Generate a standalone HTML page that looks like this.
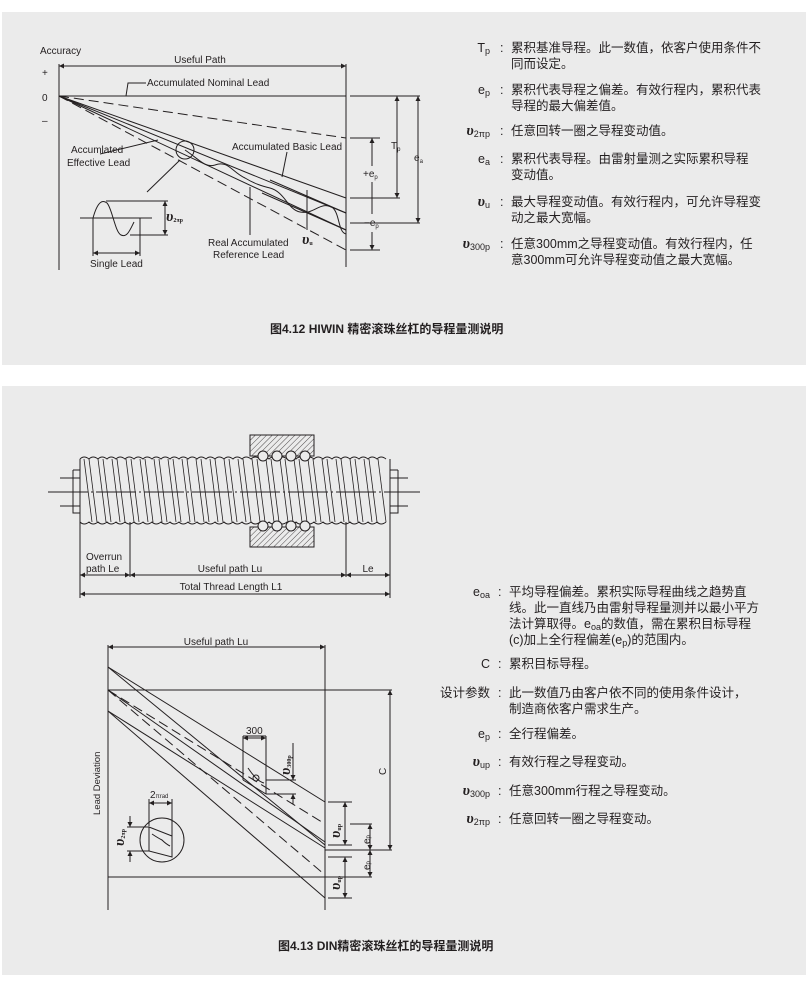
<!DOCTYPE html>
<html><head><meta charset="utf-8"><style>
body{margin:0;background:#fff;width:808px;height:1000px;overflow:hidden}
svg{display:block}
text{font-family:"Liberation Sans","Noto Sans CJK SC",sans-serif;fill:#231f20}
.s{font-size:10px}
.t{font-size:12.5px}
.b{font-size:12px;font-weight:bold}
.v{font-family:"Liberation Serif",serif;font-style:italic;font-weight:bold}
</style></head><body>
<svg width="808" height="1000" viewBox="0 0 808 1000" xmlns="http://www.w3.org/2000/svg">
<defs>
<pattern id="h" width="4" height="4" patternUnits="userSpaceOnUse" patternTransform="rotate(45)"><line x1="0" y1="0" x2="0" y2="4" stroke="#231f20" stroke-width="0.8"/></pattern>
<marker id="a" viewBox="0 0 6 6" refX="6" refY="3" markerWidth="5" markerHeight="5" orient="auto-start-reverse"><path d="M0,0L6,3L0,6z" fill="#231f20"/></marker>
</defs>
<rect x="2" y="12" width="804" height="353" fill="#ebebeb"/>
<rect x="2" y="386" width="804" height="589" fill="#ebebeb"/>

<!-- Panel 1 diagram -->
<g stroke="#231f20" stroke-width="1" fill="none">
<line x1="59" y1="64" x2="59" y2="270"/>
<line x1="346" y1="64" x2="346" y2="267"/>
<line x1="59" y1="66" x2="346" y2="66" marker-start="url(#a)" marker-end="url(#a)"/>
<line x1="59" y1="96" x2="346" y2="96"/>
<polyline points="146,83 128,83 126,96"/>
<line x1="59" y1="96" x2="346" y2="138" stroke-dasharray="10,5"/>
<line x1="59" y1="96" x2="346" y2="198"/>
<line x1="59" y1="96" x2="346" y2="213"/>
<line x1="59" y1="96" x2="346" y2="230"/>
<line x1="59" y1="96" x2="346" y2="250" stroke-dasharray="10,5"/>
<line x1="270" y1="180" x2="346" y2="213"/>
<line x1="262" y1="193" x2="346" y2="230"/>
<path d="M185,150 C200,160 205,168 215,165 C228,160 232,172 245,178 C255,184 262,186 270,188 C285,192 288,210 300,212 C315,215 320,200 333,208 C340,215 338,232 346,234"/>
<circle cx="185" cy="150" r="9"/>
<line x1="180" y1="160" x2="147" y2="192"/>
<line x1="100" y1="154" x2="158" y2="140"/>
<line x1="287" y1="152" x2="282" y2="177"/>
<line x1="250" y1="187" x2="250" y2="235"/>
<line x1="307" y1="190" x2="307" y2="230"/>
<line x1="350" y1="96" x2="420" y2="96"/>
<line x1="350" y1="138" x2="380" y2="138"/>
<line x1="350" y1="198" x2="400" y2="198"/>
<line x1="350" y1="223" x2="420" y2="223"/>
<line x1="350" y1="250" x2="380" y2="250"/>
<line x1="397" y1="96" x2="397" y2="198" marker-start="url(#a)" marker-end="url(#a)"/>
<line x1="418" y1="96" x2="418" y2="223" marker-start="url(#a)" marker-end="url(#a)"/>
<line x1="372" y1="138" x2="372" y2="166" marker-start="url(#a)"/>
<line x1="372" y1="182" x2="372" y2="214"/>
<line x1="372" y1="232" x2="372" y2="250" marker-end="url(#a)"/>
<line x1="80" y1="218" x2="152" y2="218"/>
<path d="M93,218 C98,200 103,200 107,203 C112,208 115,232 121,235 C127,238 130,230 134,222"/>
<line x1="93" y1="218" x2="93" y2="256"/>
<line x1="140" y1="218" x2="140" y2="256"/>
<line x1="93" y1="253" x2="140" y2="253" marker-start="url(#a)" marker-end="url(#a)"/>
<line x1="106" y1="201" x2="168" y2="201"/>
<line x1="130" y1="235" x2="168" y2="235"/>
<line x1="165" y1="201" x2="165" y2="235" marker-start="url(#a)" marker-end="url(#a)"/>
</g>
<g class="s">
<text x="40" y="54">Accuracy</text>
<text x="42" y="76">+</text>
<text x="42" y="101">0</text>
<text x="42" y="124">–</text>
<text x="200" y="63" text-anchor="middle">Useful Path</text>
<text x="147" y="86">Accumulated Nominal Lead</text>
<text x="232" y="150">Accumulated Basic Lead</text>
<text x="71" y="153">Accumlated</text>
<text x="67" y="166">Effective Lead</text>
<text x="208" y="246">Real Accumulated</text>
<text x="213" y="258">Reference Lead</text>
<text x="90" y="267">Single Lead</text>
<text x="391" y="149">T<tspan font-size="6" dy="2">p</tspan></text>
<text x="414" y="161">e<tspan font-size="6" dy="2">a</tspan></text>
<text x="363" y="177">+e<tspan font-size="6" dy="2">p</tspan></text>
<text x="364" y="226">−e<tspan font-size="6" dy="2">p</tspan></text>
</g>
<text x="166" y="221" class="v" font-size="15">υ<tspan font-size="6" dy="1" font-style="normal">2πp</tspan></text>
<text x="302" y="244" class="v" font-size="15">υ<tspan font-size="6" dy="1" font-style="normal">u</tspan></text>

<!-- Panel 1 text -->
<g class="t">
<text x="490" y="52" text-anchor="end">T<tspan font-size="9" dy="2">p</tspan></text>
<text x="500" y="52">:</text><text x="511" y="52">累积基准导程。此一数值，依客户使用条件不</text>
<text x="511" y="68">同而设定。</text>
<text x="490" y="94" text-anchor="end">e<tspan font-size="9" dy="2">p</tspan></text>
<text x="500" y="94">:</text><text x="511" y="94">累积代表导程之偏差。有效行程内，累积代表</text>
<text x="511" y="110">导程的最大偏差值。</text>
<text x="490" y="135" text-anchor="end"><tspan class="v" font-size="15">υ</tspan><tspan font-size="9" dy="2">2πp</tspan></text>
<text x="500" y="135">:</text><text x="511" y="135">任意回转一圈之导程变动值。</text>
<text x="490" y="163" text-anchor="end">e<tspan font-size="9" dy="2">a</tspan></text>
<text x="500" y="163">:</text><text x="511" y="163">累积代表导程。由雷射量测之实际累积导程</text>
<text x="511" y="179">变动值。</text>
<text x="490" y="206" text-anchor="end"><tspan class="v" font-size="15">υ</tspan><tspan font-size="9" dy="2">u</tspan></text>
<text x="500" y="206">:</text><text x="511" y="206">最大导程变动值。有效行程内，可允许导程变</text>
<text x="511" y="222">动之最大宽幅。</text>
<text x="490" y="248" text-anchor="end"><tspan class="v" font-size="15">υ</tspan><tspan font-size="9" dy="2">300p</tspan></text>
<text x="500" y="248">:</text><text x="511" y="248">任意300mm之导程变动值。有效行程内，任</text>
<text x="511" y="264">意300mm可允许导程变动值之最大宽幅。</text>
</g>
<text x="270" y="333" class="b">图4.12 HIWIN 精密滚珠丝杠的导程量测说明</text>

<!-- Panel 2 screw -->
<g stroke="#231f20" stroke-width="1" fill="none">
<line x1="48" y1="492" x2="420" y2="492" stroke-dasharray="40,3,2,3"/>
<path d="M80,478 H60 M60,506 H80 M73,470 V513 H80 M73,470 H80"/>
<path d="M390,478 H408 M408,506 H390 M398,470 V513 H390 M398,470 H390"/>
<path d="M80,459 V522 M390,459 V522"/>
<path d="M80,459 q4,-4 9,0 q4,-4 9,0 q4,-4 9,0 q4,-4 9,0 q4,-4 9,0 q4,-4 9,0 q4,-4 9,0 q4,-4 9,0 q4,-4 9,0 q4,-4 9,0 q4,-4 9,0 q4,-4 9,0 q4,-4 9,0 q4,-4 9,0 q4,-4 9,0 q4,-4 9,0 q4,-4 9,0 q4,-4 9,0 q4,-4 9,0 q4,-4 9,0 q4,-4 9,0 q4,-4 9,0 q4,-4 9,0 q4,-4 9,0 q4,-4 9,0 q4,-4 9,0 q4,-4 9,0 q4,-4 9,0 q4,-4 9,0 q4,-4 9,0 q4,-4 9,0 q4,-4 9,0 q4,-4 9,0 q4,-4 9,0"/>
<path d="M80,522 q4,4 9,0 q4,4 9,0 q4,4 9,0 q4,4 9,0 q4,4 9,0 q4,4 9,0 q4,4 9,0 q4,4 9,0 q4,4 9,0 q4,4 9,0 q4,4 9,0 q4,4 9,0 q4,4 9,0 q4,4 9,0 q4,4 9,0 q4,4 9,0 q4,4 9,0 q4,4 9,0 q4,4 9,0 q4,4 9,0 q4,4 9,0 q4,4 9,0 q4,4 9,0 q4,4 9,0 q4,4 9,0 q4,4 9,0 q4,4 9,0 q4,4 9,0 q4,4 9,0 q4,4 9,0 q4,4 9,0 q4,4 9,0 q4,4 9,0 q4,4 9,0"/>
<g stroke-width="0.8">
<path d="M84,459 l8,63 M89,459 l8,63 M98,459 l8,63 M103,459 l8,63 M112,459 l8,63 M117,459 l8,63 M126,459 l8,63 M131,459 l8,63 M140,459 l8,63 M145,459 l8,63 M154,459 l8,63 M159,459 l8,63 M168,459 l8,63 M173,459 l8,63 M182,459 l8,63 M187,459 l8,63 M196,459 l8,63 M201,459 l8,63 M210,459 l8,63 M215,459 l8,63 M224,459 l8,63 M229,459 l8,63 M238,459 l8,63 M243,459 l8,63 M252,459 l8,63 M257,459 l8,63 M266,459 l8,63 M271,459 l8,63 M280,459 l8,63 M285,459 l8,63 M294,459 l8,63 M299,459 l8,63 M308,459 l8,63 M313,459 l8,63 M322,459 l8,63 M327,459 l8,63 M336,459 l8,63 M341,459 l8,63 M350,459 l8,63 M355,459 l8,63 M364,459 l8,63 M369,459 l8,63 M378,459 l8,63"/>
</g>
<rect x="250" y="435" width="64" height="21" fill="url(#h)"/>
<rect x="250" y="527" width="64" height="20" fill="url(#h)"/>
<g fill="#ebebeb">
<circle cx="263" cy="456" r="5"/><circle cx="277" cy="456" r="5"/><circle cx="291" cy="456" r="5"/><circle cx="305" cy="456" r="5"/>
<circle cx="263" cy="526" r="5"/><circle cx="277" cy="526" r="5"/><circle cx="291" cy="526" r="5"/><circle cx="305" cy="526" r="5"/>
</g>
<path d="M80,522 V598 M130,522 V577 M346,522 V577 M390,522 V598"/>
<line x1="80" y1="575" x2="130" y2="575" marker-start="url(#a)" marker-end="url(#a)"/>
<line x1="130" y1="575" x2="346" y2="575" marker-start="url(#a)" marker-end="url(#a)"/>
<line x1="346" y1="575" x2="390" y2="575" marker-start="url(#a)" marker-end="url(#a)"/>
<line x1="80" y1="594" x2="390" y2="594" marker-start="url(#a)" marker-end="url(#a)"/>
</g>
<g class="s">
<text x="86" y="560">Overrun</text>
<text x="86" y="572">path Le</text>
<text x="230" y="572" text-anchor="middle">Useful path Lu</text>
<text x="368" y="572" text-anchor="middle">Le</text>
<text x="231" y="590" text-anchor="middle">Total Thread Length L1</text>
</g>

<!-- Panel 2 lower diagram -->
<g stroke="#231f20" stroke-width="1" fill="none">
<line x1="108" y1="647" x2="325" y2="647" marker-start="url(#a)" marker-end="url(#a)"/>
<line x1="108" y1="645" x2="108" y2="910"/>
<line x1="325" y1="645" x2="325" y2="910"/>
<line x1="108" y1="690" x2="392" y2="690"/>
<line x1="108" y1="877" x2="372" y2="877"/>
<line x1="325" y1="850" x2="392" y2="850"/>
<line x1="108" y1="667" x2="325" y2="802"/>
<line x1="108" y1="667" x2="325" y2="845"/>
<line x1="108" y1="690" x2="325" y2="842"/>
<line x1="108" y1="690" x2="325" y2="824" stroke-dasharray="10,5"/>
<line x1="108" y1="690" x2="325" y2="875" stroke-dasharray="10,5"/>
<line x1="108" y1="711" x2="325" y2="848"/>
<line x1="108" y1="711" x2="325" y2="898"/>
<line x1="328" y1="802" x2="352" y2="802"/>
<line x1="328" y1="845" x2="352" y2="845"/>
<line x1="328" y1="857" x2="352" y2="857"/>
<line x1="328" y1="898" x2="352" y2="898"/>
<line x1="345" y1="802" x2="345" y2="845" marker-start="url(#a)" marker-end="url(#a)"/>
<line x1="345" y1="857" x2="345" y2="898" marker-start="url(#a)" marker-end="url(#a)"/>
<line x1="350" y1="824" x2="372" y2="824"/>
<line x1="370" y1="824" x2="370" y2="850" marker-start="url(#a)" marker-end="url(#a)"/>
<line x1="370" y1="850" x2="370" y2="877" marker-start="url(#a)" marker-end="url(#a)"/>
<line x1="390" y1="690" x2="390" y2="850" marker-start="url(#a)" marker-end="url(#a)"/>
<path d="M243,736 V780 M266,736 V794 M243,736 H266"/>
<line x1="243" y1="738" x2="266" y2="738" marker-start="url(#a)" marker-end="url(#a)"/>
<path d="M243,780 L266,794"/>
<path d="M248,768 q4,6 8,10 q4,4 8,5"/>
<circle cx="256" cy="778" r="3"/>
<path d="M266,780 H296 M266,794 H296"/>
<line x1="293" y1="743" x2="293" y2="780" marker-end="url(#a)"/>
<line x1="293" y1="794" x2="293" y2="804" marker-start="url(#a)"/>
<circle cx="162" cy="840" r="22"/>
<path d="M149,827 V851 L172,857 V836 Z"/>
<path d="M152,834 q6,4 10,6 q4,4 8,6"/>
<path d="M149,799 V826 M172,799 V855"/>
<line x1="149" y1="803" x2="172" y2="803" marker-start="url(#a)" marker-end="url(#a)"/>
<path d="M127,827 H149 M127,851 H149"/>
<line x1="130" y1="816" x2="130" y2="827" marker-end="url(#a)"/>
<line x1="130" y1="851" x2="130" y2="862" marker-start="url(#a)"/>
</g>
<g class="s">
<text x="216" y="645" text-anchor="middle">Useful path Lu</text>
<text x="246" y="734">300</text>
<text x="150" y="798">2<tspan font-size="6">πrad</tspan></text>
<text x="386" y="775" transform="rotate(-90 386 775)">C</text>
<text x="370" y="844" transform="rotate(-90 370 844)">e<tspan font-size="6">p</tspan></text>
<text x="370" y="870" transform="rotate(-90 370 870)">e<tspan font-size="6">p</tspan></text>
<text x="100" y="815" font-size="9.5" transform="rotate(-90 100 815)">Lead Deviation</text>
</g>
<text x="290" y="775" class="v" font-size="15" transform="rotate(-90 290 775)">υ<tspan font-size="6" dy="1" font-style="normal">300p</tspan></text>
<text x="340" y="838" class="v" font-size="15" transform="rotate(-90 340 838)">υ<tspan font-size="6" dy="1" font-style="normal">up</tspan></text>
<text x="340" y="890" class="v" font-size="15" transform="rotate(-90 340 890)">υ<tspan font-size="6" dy="1" font-style="normal">up</tspan></text>
<text x="124" y="846" class="v" font-size="15" transform="rotate(-90 124 846)">υ<tspan font-size="6" dy="1" font-style="normal">2πp</tspan></text>

<!-- Panel 2 text -->
<g class="t">
<text x="490" y="596" text-anchor="end">e<tspan font-size="9" dy="2">oa</tspan></text>
<text x="498" y="596">:</text><text x="509" y="596">平均导程偏差。累积实际导程曲线之趋势直</text>
<text x="509" y="612">线。此一直线乃由雷射导程量测并以最小平方</text>
<text x="509" y="628">法计算取得。e<tspan font-size="9" dy="2">oa</tspan><tspan dy="-2">的数值，需在累积目标导程</tspan></text>
<text x="509" y="644">(c)加上全行程偏差(e<tspan font-size="9" dy="2">p</tspan><tspan dy="-2">)的范围内。</tspan></text>
<text x="490" y="668" text-anchor="end">C</text>
<text x="498" y="668">:</text><text x="509" y="668">累积目标导程。</text>
<text x="490" y="697" text-anchor="end">设计参数</text>
<text x="498" y="697">:</text><text x="509" y="697">此一数值乃由客户依不同的使用条件设计，</text>
<text x="509" y="713">制造商依客户需求生产。</text>
<text x="490" y="738" text-anchor="end">e<tspan font-size="9" dy="2">p</tspan></text>
<text x="498" y="738">:</text><text x="509" y="738">全行程偏差。</text>
<text x="490" y="766" text-anchor="end"><tspan class="v" font-size="15">υ</tspan><tspan font-size="9" dy="2">up</tspan></text>
<text x="498" y="766">:</text><text x="509" y="766">有效行程之导程变动。</text>
<text x="490" y="795" text-anchor="end"><tspan class="v" font-size="15">υ</tspan><tspan font-size="9" dy="2">300p</tspan></text>
<text x="498" y="795">:</text><text x="509" y="795">任意300mm行程之导程变动。</text>
<text x="490" y="823" text-anchor="end"><tspan class="v" font-size="15">υ</tspan><tspan font-size="9" dy="2">2πp</tspan></text>
<text x="498" y="823">:</text><text x="509" y="823">任意回转一圈之导程变动。</text>
</g>
<text x="278" y="950" class="b">图4.13 DIN精密滚珠丝杠的导程量测说明</text>
</svg>
</body></html>
